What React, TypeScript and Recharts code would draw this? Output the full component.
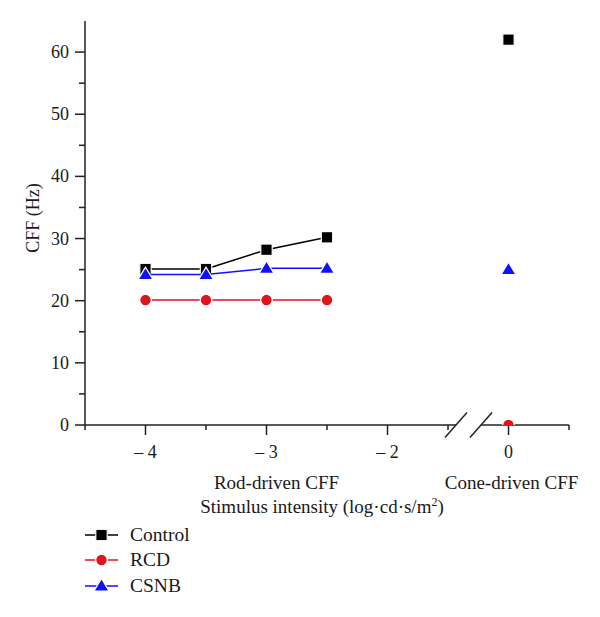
import React from 'react';
import { ComposedChart, Scatter, XAxis, YAxis, ReferenceLine, ReferenceDot, Legend } from 'recharts';

// stimulus intensities (log cd·s/m²)
const rodIntensity = [-4, -3.5, -3, -2.5];
const coneIntensity = [0];

// CFF values (Hz)
const controlRod = [25.1, 25.1, 28.2, 30.2];
const controlCone = [62];
const rcdRod = [20.1, 20.1, 20.1, 20.1];
const rcdCone = [0];
const csnbRod = [24.2, 24.2, 25.2, 25.2];
const csnbCone = [25];

const xTickValues = [-4.5, -4, -3.5, -3, -2.5, -2, -1.5, 0, 0.5];
const xMajorLabels: Record<string, string> = { '-4': '– 4', '-3': '– 3', '-2': '– 2', '0': '0' };
const yTickValues = [0, 5, 10, 15, 20, 25, 30, 35, 40, 45, 50, 55, 60];
const rodLabel = 'Rod-driven CFF';
const coneLabel = 'Cone-driven CFF';

const FONT = '"Liberation Serif", "Times New Roman", serif';
const AXIS = '#222';
const TEXT = '#1a1a1a';

// axis break: the cone segment is pulled left by one log unit
const BREAK_SHIFT = 1;
const toPlot = (v: number) => (v > -1 ? v - BREAK_SHIFT : v);
const fromPlot = (p: number) => (p > -1.3 ? p + BREAK_SHIFT : p);

const pts = (xs: number[], ys: number[]) => xs.map((x, i) => ({ x: toPlot(x), y: ys[i] }));

const square = (color: string) => (p: any) => (
  <rect x={p.cx - 5.7} y={p.cy - 5.7} width={11.4} height={11.4} fill={color} stroke="#fff" strokeWidth={1.2} />
);
const circle = (color: string) => (p: any) => (
  <circle cx={p.cx} cy={p.cy} r={5.8} fill={color} stroke="#fff" strokeWidth={1.2} />
);
const triangle = (color: string) => (p: any) => (
  <polygon
    points={`${p.cx},${p.cy - 7.5} ${p.cx - 7.5},${p.cy + 5} ${p.cx + 7.5},${p.cy + 5}`}
    fill={color}
    stroke="#fff"
    strokeWidth={1.2}
  />
);

const series = [
  { name: 'Control', color: '#000000', rod: controlRod, cone: controlCone, shape: square('#000000') },
  { name: 'RCD', color: '#e0141b', rod: rcdRod, cone: rcdCone, shape: circle('#e0141b') },
  { name: 'CSNB', color: '#1010ff', rod: csnbRod, cone: csnbCone, shape: triangle('#1010ff') },
];

const XTick = (props: any) => {
  const { x, y, payload } = props;
  const label = xMajorLabels[String(fromPlot(payload.value))];
  return (
    <g>
      <line x1={x} x2={x} y1={y} y2={y + (label ? 10 : 5)} stroke={AXIS} strokeWidth={1.5} />
      {label && (
        <text x={x} y={y + 33} textAnchor="middle" fontFamily={FONT} fontSize={18} fill={TEXT}>
          {label}
        </text>
      )}
    </g>
  );
};

const YTick = (props: any) => {
  const { x, y, payload } = props;
  const major = payload.value % 10 === 0;
  return (
    <g>
      <line x1={x} x2={x - (major ? 10 : 6)} y1={y} y2={y} stroke={AXIS} strokeWidth={1.5} />
      {major && (
        <text x={x - 16} y={y + 6} textAnchor="end" fontFamily={FONT} fontSize={18} fill={TEXT}>
          {payload.value}
        </text>
      )}
    </g>
  );
};

const segmentText = (text: string, dx: number) => (p: any) => (
  <text x={p.viewBox.x + dx} y={p.viewBox.y + 64} textAnchor="middle" fontFamily={FONT} fontSize={19} fill={TEXT}>
    {text}
  </text>
);

const renderLegend = () => (
  <div style={{ fontFamily: FONT, fontSize: 19.5, color: TEXT }}>
    {series.map((s) => (
      <div key={s.name} style={{ display: 'flex', alignItems: 'center', height: 25.5 }}>
        <svg width={36} height={16} style={{ overflow: 'visible' }}>
          <line x1={0} x2={33} y1={8} y2={8} stroke={s.color} strokeWidth={1.5} />
          {s.shape({ cx: 16.5, cy: 8 })}
        </svg>
        <span style={{ marginLeft: 9 }}>{s.name}</span>
      </div>
    ))}
  </div>
);

export default function App() {
  return (
    <div style={{ position: 'absolute', left: 0, top: 0, width: 600, height: 617, background: '#fff' }}>
      <ComposedChart width={600} height={617} margin={{ top: 21, right: 31, bottom: 92, left: 0 }}>
        <XAxis
          type="number"
          dataKey="x"
          domain={[-4.5, -0.5]}
          ticks={xTickValues.map(toPlot)}
          interval={0}
          axisLine={false}
          tickLine={false}
          tickSize={0}
          tickMargin={0}
          tick={<XTick />}
          height={100}
          label={{
            content: (p: any) => (
              <text
                x={p.viewBox.x + p.viewBox.width / 2 - 5}
                y={p.viewBox.y + 88}
                textAnchor="middle"
                fontFamily={FONT}
                fontSize={19}
                fill={TEXT}
              >
                Stimulus intensity (log·cd·s/m
                <tspan dy={-7} fontSize={12}>2</tspan>
                <tspan dy={7}>)</tspan>
              </text>
            ),
          }}
        />
        <YAxis
          type="number"
          dataKey="y"
          domain={[0, 65]}
          ticks={yTickValues}
          interval={0}
          allowDataOverflow
          width={85}
          axisLine={{ stroke: AXIS, strokeWidth: 1.5 }}
          tickLine={false}
          tickSize={0}
          tickMargin={0}
          tick={<YTick />}
          label={{
            content: (p: any) => {
              const cx = p.viewBox.x + 33;
              const cy = p.viewBox.y + p.viewBox.height / 2 - 5;
              return (
                <text
                  x={cx}
                  y={cy}
                  transform={`rotate(-90 ${cx} ${cy})`}
                  textAnchor="middle"
                  dominantBaseline="central"
                  fontFamily={FONT}
                  fontSize={18}
                  fill={TEXT}
                >
                  CFF (Hz)
                </text>
              );
            },
          }}
        />
        {series.map((s) => (
          <Scatter
            key={s.name + '-rod'}
            name={s.name}
            data={pts(rodIntensity, s.rod)}
            fill={s.color}
            line={{ stroke: s.color, strokeWidth: 1.5 }}
            lineType="joint"
            shape={s.shape}
            isAnimationActive={false}
          />
        ))}
        {series.map((s) => (
          <Scatter
            key={s.name + '-cone'}
            data={pts(coneIntensity, s.cone)}
            fill={s.color}
            shape={s.shape}
            legendType="none"
            isAnimationActive={false}
          />
        ))}
        <ReferenceLine segment={[{ x: -4.5, y: 0 }, { x: -1.434, y: 0 }]} stroke={AXIS} strokeWidth={1.5} ifOverflow="visible" />
        <ReferenceLine segment={[{ x: -1.227, y: 0 }, { x: -0.5, y: 0 }]} stroke={AXIS} strokeWidth={1.5} ifOverflow="visible" />
        <ReferenceLine segment={[{ x: -1.525, y: -2 }, { x: -1.343, y: 2 }]} stroke={AXIS} strokeWidth={1.5} ifOverflow="visible" />
        <ReferenceLine segment={[{ x: -1.318, y: -2 }, { x: -1.136, y: 2 }]} stroke={AXIS} strokeWidth={1.5} ifOverflow="visible" />
        <ReferenceDot x={rodIntensity[2]} y={0} r={0} fill="none" stroke="none" ifOverflow="visible" label={{ content: segmentText(rodLabel, 10) }} />
        <ReferenceDot x={toPlot(coneIntensity[0])} y={0} r={0} fill="none" stroke="none" ifOverflow="visible" label={{ content: segmentText(coneLabel, 3) }} />
        <Legend
          layout="vertical"
          align="center"
          verticalAlign="middle"
          content={renderLegend}
          wrapperStyle={{ left: 85, top: 522, width: 200, height: 80 }}
        />
      </ComposedChart>
    </div>
  );
}
